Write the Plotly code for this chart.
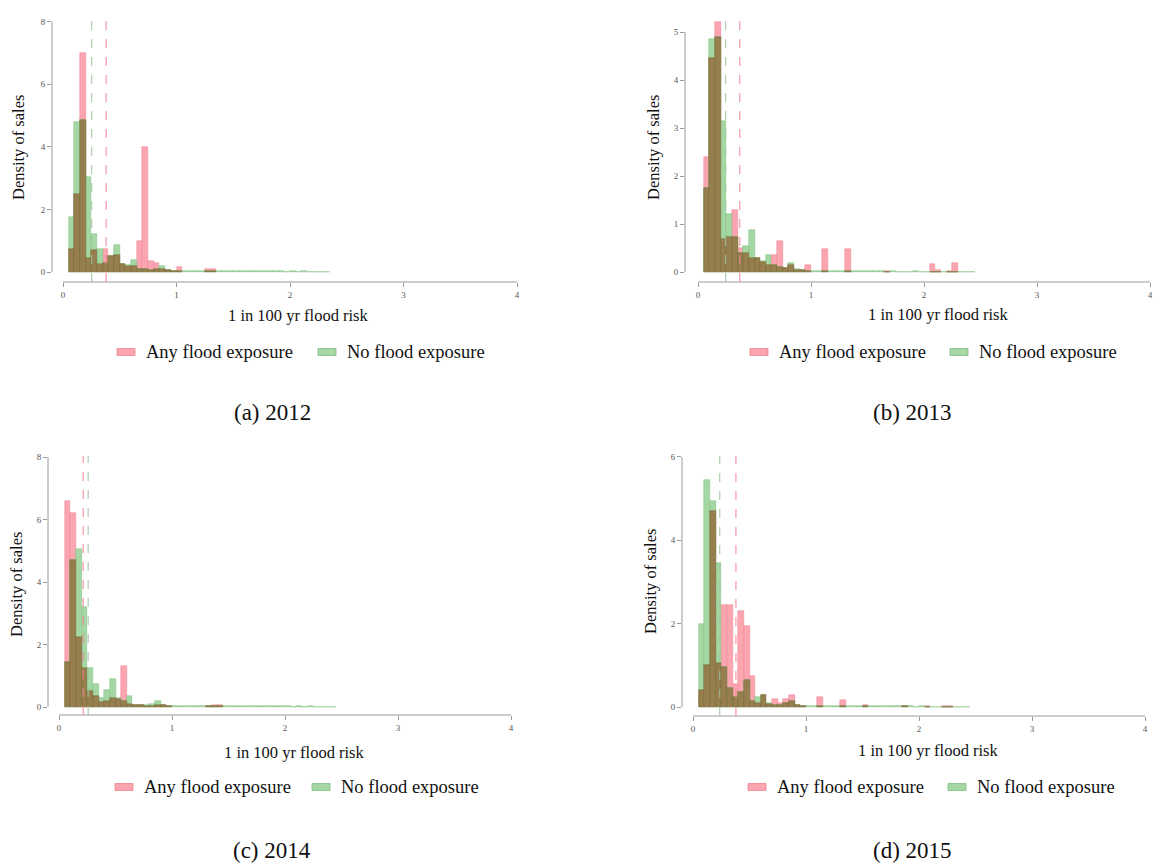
import numpy as np
import plotly.graph_objects as go

# ---------------- data ----------------
BIN_LEFT = [0.05, 0.10, 0.15, 0.20, 0.25, 0.30, 0.35, 0.40, 0.45, 0.50,
            0.55, 0.60, 0.65, 0.70, 0.75, 0.80, 0.85, 0.90, 0.95, 1.00,
            1.05, 1.10, 1.15, 1.20, 1.25, 1.30, 1.35, 1.40, 1.45, 1.50,
            1.55, 1.60, 1.65, 1.70, 1.75, 1.80, 1.85, 1.90, 1.95, 2.00,
            2.05, 2.10, 2.15, 2.20, 2.25, 2.30, 2.35, 2.40, 2.45, 2.50, 2.55]
BIN_WIDTH = 0.05

ANY_2012 = [0.75, 2.5, 7.0, 0.45, 0.7, 0.25, 0.75, 0.5, 0.55, 0.25,
            0.2, 0.2, 1.0, 4.0, 0.35, 0.3, 0.1, 0.05, 0.02, 0.15,
            0.0, 0.0, 0.0, 0.0, 0.1, 0.1, 0.0, 0.0, 0.0, 0.0,
            0.0, 0.0, 0.0, 0.0, 0.0, 0.0, 0.0, 0.0, 0.0, 0.0,
            0.0, 0.0, 0.0, 0.0, 0.0, 0.0, 0.0, 0.0, 0.0, 0.0, 0.0]
NO_2012 = [1.75, 4.8, 4.85, 3.05, 1.2, 0.75, 0.3, 0.5, 0.85, 0.25,
           0.22, 0.37, 0.1, 0.1, 0.05, 0.1, 0.18, 0.05, 0.03, 0.03,
           0.03, 0.02, 0.03, 0.02, 0.02, 0.02, 0.02, 0.02, 0.02, 0.02,
           0.03, 0.02, 0.02, 0.02, 0.02, 0.02, 0.02, 0.02, 0.01, 0.02,
           0.01, 0.02, 0.01, 0.01, 0.01, 0.01, 0.0, 0.0, 0.0, 0.0, 0.0]

ANY_2013 = [2.4, 4.45, 5.2, 0.68, 0.72, 1.3, 0.5, 0.4, 0.3, 0.3,
            0.2, 0.15, 0.35, 0.65, 0.08, 0.15, 0.05, 0.05, 0.15, 0.0,
            0.0, 0.47, 0.0, 0.0, 0.0, 0.47, 0.0, 0.0, 0.0, 0.0,
            0.0, 0.0, 0.02, 0.0, 0.0, 0.0, 0.0, 0.0, 0.0, 0.0,
            0.17, 0.05, 0.0, 0.03, 0.19, 0.0, 0.0, 0.0, 0.0, 0.0, 0.0]
NO_2013 = [1.75, 4.85, 4.9, 3.15, 1.2, 0.72, 0.4, 0.55, 0.88, 0.3,
           0.22, 0.35, 0.15, 0.1, 0.08, 0.18, 0.06, 0.04, 0.03, 0.03,
           0.02, 0.02, 0.02, 0.02, 0.02, 0.02, 0.02, 0.03, 0.02, 0.02,
           0.02, 0.02, 0.01, 0.02, 0.01, 0.01, 0.01, 0.02, 0.01, 0.01,
           0.01, 0.01, 0.01, 0.01, 0.01, 0.01, 0.01, 0.01, 0.0, 0.0, 0.0]

ANY_2014 = [6.6, 6.2, 2.25, 1.25, 0.5, 0.35, 0.15, 0.2, 0.3, 0.25,
            1.3, 0.1, 0.05, 0.05, 0.04, 0.04, 0.08, 0.05, 0.03, 0.0,
            0.0, 0.0, 0.0, 0.0, 0.0, 0.03, 0.08, 0.08, 0.0, 0.0,
            0.0, 0.0, 0.0, 0.0, 0.0, 0.0, 0.0, 0.0, 0.0, 0.0,
            0.0, 0.0, 0.0, 0.0, 0.0, 0.0, 0.0, 0.0, 0.0, 0.0, 0.0]
NO_2014 = [1.45, 4.7, 5.05, 3.2, 1.25, 0.75, 0.3, 0.55, 0.9, 0.3,
           0.2, 0.35, 0.07, 0.08, 0.05, 0.1, 0.18, 0.05, 0.04, 0.03,
           0.03, 0.02, 0.02, 0.02, 0.02, 0.02, 0.02, 0.02, 0.02, 0.02,
           0.03, 0.02, 0.04, 0.02, 0.02, 0.02, 0.02, 0.02, 0.02, 0.02,
           0.01, 0.02, 0.01, 0.02, 0.01, 0.01, 0.01, 0.01, 0.0, 0.0, 0.0]

ANY_2015 = [0.4, 1.0, 4.7, 1.05, 2.45, 2.45, 0.55, 2.3, 1.95, 0.75,
            0.1, 0.3, 0.08, 0.2, 0.1, 0.2, 0.3, 0.05, 0.03, 0.0,
            0.0, 0.25, 0.0, 0.0, 0.0, 0.18, 0.0, 0.0, 0.0, 0.05,
            0.0, 0.0, 0.0, 0.0, 0.0, 0.0, 0.03, 0.0, 0.0, 0.0,
            0.03, 0.0, 0.0, 0.03, 0.03, 0.0, 0.0, 0.0, 0.0, 0.0, 0.0]
NO_2015 = [2.0, 5.45, 4.95, 3.45, 0.95, 0.45, 0.25, 0.35, 0.65, 0.15,
           0.25, 0.3, 0.1, 0.05, 0.05, 0.1, 0.15, 0.04, 0.03, 0.03,
           0.02, 0.02, 0.02, 0.02, 0.02, 0.02, 0.02, 0.03, 0.02, 0.02,
           0.03, 0.02, 0.02, 0.02, 0.02, 0.02, 0.02, 0.02, 0.01, 0.02,
           0.01, 0.01, 0.01, 0.01, 0.01, 0.01, 0.01, 0.01, 0.0, 0.0, 0.0]

MEDIAN_ANY = [0.38, 0.37, 0.214, 0.38]
MEDIAN_NO = [0.253, 0.245, 0.258, 0.237]

YEARS = ["2012", "2013", "2014", "2015"]
LETTERS = ["a", "b", "c", "d"]
Y_TICKS = [[0, 2, 4, 6, 8], [0, 1, 2, 3, 4, 5], [0, 2, 4, 6, 8], [0, 2, 4, 6]]
X_TICKS = [0, 1, 2, 3, 4]
LEGEND_LABELS = ["Any flood exposure", "No flood exposure"]
X_TITLE = "1 in 100 yr flood risk"
Y_TITLE = "Density of sales"

ANY = [ANY_2012, ANY_2013, ANY_2014, ANY_2015]
NO = [NO_2012, NO_2013, NO_2014, NO_2015]

# ---------------- layout geometry (pixels) ----------------
W, H = 1171, 864
PANELS = [
    dict(l=52, r=548, t=12, b=282, x0=63, ux=113.5, y0=272, uy=31.3),
    dict(l=685, r=1171, t=12, b=282, x0=698, ux=113.0, y0=272, uy=48.0),
    dict(l=48, r=545, t=448, b=715, x0=59, ux=113.0, y0=707, uy=31.25),
    dict(l=682, r=1171, t=448, b=716, x0=693, ux=113.0, y0=707, uy=41.67),
]
YTITLE_POS = [(18, 148), (653, 148), (16, 585), (650, 582)]
XTITLE_POS = [(298, 316), (938, 315), (294, 752), (928, 750)]
LEG_POS = [(117, 318, 352), (750, 950, 352), (115, 312, 787), (748, 948, 787)]
CAP_POS = [(272, 412), (912, 412), (272, 850), (912, 850)]

RED_FILL = "rgb(250,165,176)"
RED_LINE = "rgb(240,130,145)"
GREEN_FILL = "rgb(165,215,165)"
GREEN_LINE = "rgb(125,190,125)"
OLIVE_FILL = "rgb(150,126,78)"
OLIVE_LINE = "rgb(118,104,52)"
AXIS_COL = "#9a9a9a"
SERIF = "Liberation Serif"


def hide_zero(a):
    a = np.asarray(a, dtype=float)
    return np.where(a > 0, a, np.nan)


fig = go.Figure()
layout = dict(
    width=W, height=H, margin=dict(l=0, r=0, t=0, b=0),
    paper_bgcolor="white", plot_bgcolor="white",
    barmode="overlay", bargap=0, showlegend=False,
)
shapes = []
annotations = []

for k in range(4):
    p = PANELS[k]
    xa = "xaxis" if k == 0 else f"xaxis{k+1}"
    ya = "yaxis" if k == 0 else f"yaxis{k+1}"
    xr = "x" if k == 0 else f"x{k+1}"
    yr = "y" if k == 0 else f"y{k+1}"
    red = np.array(ANY[k], dtype=float)
    green = np.array(NO[k], dtype=float)
    both = np.minimum(red, green)
    for vals, fill, line, name in [(red, RED_FILL, RED_LINE, LEGEND_LABELS[0]),
                                   (green, GREEN_FILL, GREEN_LINE, LEGEND_LABELS[1]),
                                   (both, OLIVE_FILL, OLIVE_LINE, "overlap")]:
        fig.add_trace(go.Bar(
            x=BIN_LEFT, y=hide_zero(vals), width=BIN_WIDTH, offset=0,
            marker=dict(color=fill, line=dict(color=line, width=0.5)),
            name=name, xaxis=xr, yaxis=yr, showlegend=False,
        ))
    xrange = [(p["l"] - p["x0"]) / p["ux"], (p["r"] - p["x0"]) / p["ux"]]
    yrange = [(p["y0"] - p["b"]) / p["uy"], (p["y0"] - p["t"]) / p["uy"]]
    layout[xa] = dict(
        domain=[p["l"] / W, p["r"] / W], range=xrange, anchor=yr,
        tickvals=X_TICKS, ticks="outside", ticklen=4, tickcolor=AXIS_COL,
        tickfont=dict(family=SERIF, size=9, color="#555555"),
        showgrid=False, zeroline=False, showline=False,
    )
    layout[ya] = dict(
        domain=[1 - p["b"] / H, 1 - p["t"] / H], range=yrange, anchor=xr,
        tickvals=Y_TICKS[k], ticks="outside", ticklen=4, tickcolor=AXIS_COL,
        tickfont=dict(family=SERIF, size=9, color="#555555"),
        showgrid=False, zeroline=False, showline=False,
    )
    shapes.append(dict(type="line", xref=f"{xr} domain", yref=yr,
                       x0=0, x1=0, y0=0, y1=Y_TICKS[k][-1],
                       line=dict(color=AXIS_COL, width=1)))
    shapes.append(dict(type="line", xref=xr, yref=f"{yr} domain",
                       x0=X_TICKS[0], x1=X_TICKS[-1], y0=0, y1=0,
                       line=dict(color=AXIS_COL, width=1)))
    shapes.append(dict(type="line", xref=xr, yref=f"{yr} domain",
                       x0=MEDIAN_NO[k], x1=MEDIAN_NO[k], y0=0.0, y1=0.97,
                       line=dict(color="rgb(160,195,160)", width=1, dash="dash")))
    shapes.append(dict(type="line", xref=xr, yref=f"{yr} domain",
                       x0=MEDIAN_ANY[k], x1=MEDIAN_ANY[k], y0=0.0, y1=0.97,
                       line=dict(color="rgb(245,130,150)", width=1, dash="dash")))
    tx, ty = YTITLE_POS[k]
    annotations.append(dict(text=Y_TITLE, xref="paper", yref="paper",
                            x=tx / W, y=1 - ty / H, showarrow=False, textangle=-90,
                            xanchor="center", yanchor="middle",
                            font=dict(family=SERIF, size=16.5, color="#111")))
    tx, ty = XTITLE_POS[k]
    annotations.append(dict(text=X_TITLE, xref="paper", yref="paper",
                            x=tx / W, y=1 - ty / H, showarrow=False,
                            xanchor="center", yanchor="middle",
                            font=dict(family=SERIF, size=16.5, color="#111")))
    rx, gx, ly = LEG_POS[k]
    for sx, fill, line, lab in [(rx, RED_FILL, RED_LINE, LEGEND_LABELS[0]),
                                (gx, GREEN_FILL, GREEN_LINE, LEGEND_LABELS[1])]:
        shapes.append(dict(type="rect", xref="paper", yref="paper",
                           x0=sx / W, x1=(sx + 18) / W,
                           y0=1 - (ly + 3.5) / H, y1=1 - (ly - 3.5) / H,
                           fillcolor=fill, line=dict(color=line, width=0.8)))
        annotations.append(dict(text=lab, xref="paper", yref="paper",
                                x=(sx + 27) / W, y=1 - ly / H, showarrow=False,
                                xanchor="left", yanchor="middle",
                                font=dict(family=SERIF, size=18.5, color="#111")))
    cx, cy = CAP_POS[k]
    annotations.append(dict(text=f"({LETTERS[k]}) {YEARS[k]}", xref="paper", yref="paper",
                            x=cx / W, y=1 - cy / H, showarrow=False,
                            xanchor="center", yanchor="middle",
                            font=dict(family=SERIF, size=23, color="#111")))

layout["shapes"] = shapes
layout["annotations"] = annotations
fig.update_layout(**layout)
fig.write_html("out.html")
